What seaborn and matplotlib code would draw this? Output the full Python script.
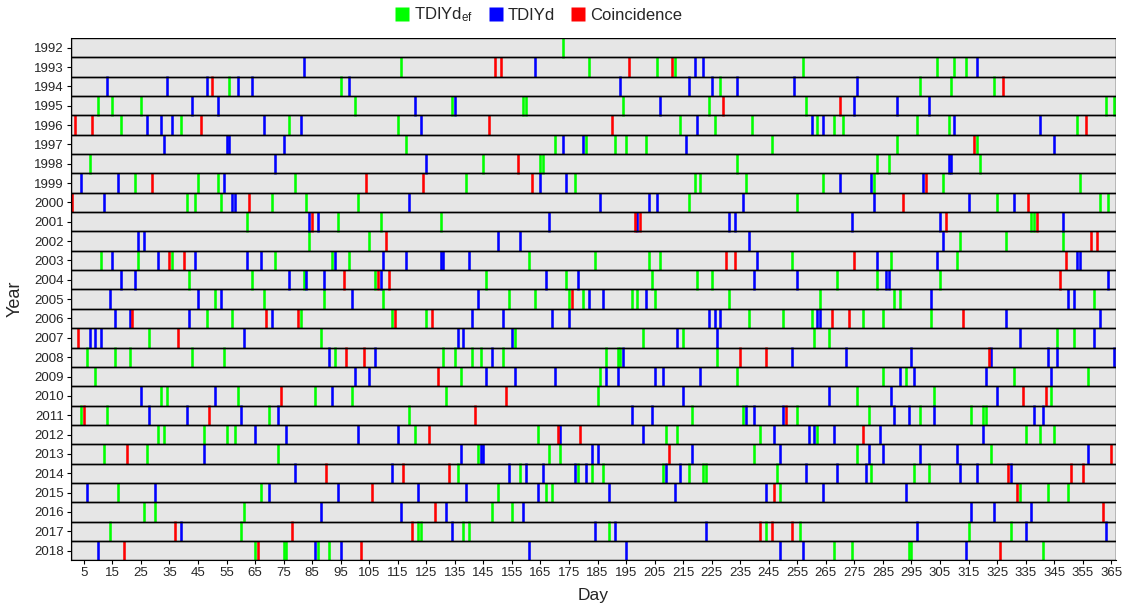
import matplotlib
matplotlib.use("Agg")
import matplotlib.pyplot as plt
from matplotlib.lines import Line2D
import pandas as pd
import seaborn as sns

YEARS = list(range(1992, 2019))
DAY_TICKS = list(range(5, 366, 10))
TYPES = ["TDIYd_ef", "TDIYd", "Coincidence"]
TYPE_LABELS = ["TDIYd$_{ef}$", "TDIYd", "Coincidence"]
COLORS = ["#00ff00", "#0000ff", "#ff0000"]

TDIYD_EF = {
    1992: [173],
    1993: [116, 182, 206, 212, 257, 304, 310, 314],
    1994: [56, 95, 228, 298, 309, 324],
    1995: [10, 15, 25, 100, 134, 159, 160, 194, 224, 258, 363, 366],
    1996: [18, 39, 77, 115, 214, 226, 239, 262, 268, 271, 297, 308, 353],
    1997: [118, 170, 181, 191, 195, 202, 246, 290, 318],
    1998: [7, 145, 165, 166, 234, 283, 287, 319],
    1999: [23, 45, 52, 79, 139, 177, 219, 221, 237, 264, 282, 306, 354],
    2000: [41, 44, 53, 71, 83, 101, 217, 255, 325, 361, 364],
    2001: [62, 94, 109, 130, 337, 338],
    2002: [84, 105, 312, 328, 348],
    2003: [11, 24, 36, 72, 92, 98, 161, 184, 203, 207, 253, 288, 311],
    2004: [42, 64, 82, 107, 146, 174, 204, 220, 225, 269, 283, 305],
    2005: [51, 68, 89, 110, 154, 163, 175, 180, 197, 199, 205, 231, 263, 289, 291, 359],
    2006: [48, 57, 81, 113, 125, 238, 250, 260, 278, 285, 302],
    2007: [28, 88, 156, 201, 215, 261, 266, 346, 352],
    2008: [6, 16, 21, 43, 54, 93, 131, 135, 141, 144, 152, 188, 192, 193, 227],
    2009: [9, 137, 186, 234, 285, 293, 331, 357],
    2010: [32, 34, 59, 86, 99, 132, 185, 276, 303, 344],
    2011: [4, 13, 70, 119, 218, 236, 255, 280, 298, 316, 320, 321],
    2012: [31, 33, 47, 55, 58, 121, 164, 209, 213, 242, 262, 335, 340, 345],
    2013: [12, 27, 73, 143, 168, 172, 240, 276, 323],
    2014: [136, 158, 178, 183, 187, 208, 217, 222, 223, 248, 281, 296, 301],
    2015: [17, 67, 150, 167, 169, 249, 333, 343, 350],
    2016: [26, 30, 61, 148, 155],
    2017: [14, 60, 122, 123, 138, 140, 189, 244, 256, 315, 330],
    2018: [65, 75, 76, 87, 91, 268, 274, 294, 295, 341],
}

TDIYD = {
    1992: [],
    1993: [82, 163, 219, 222, 318],
    1994: [13, 34, 48, 59, 64, 98, 193, 217, 225, 234, 254, 276],
    1995: [43, 52, 121, 135, 207, 275, 290, 301],
    1996: [27, 32, 36, 68, 81, 123, 220, 260, 264, 310, 340],
    1997: [33, 55, 56, 75, 173, 180, 216, 345],
    1998: [72, 125, 308, 309],
    1999: [4, 17, 54, 165, 174, 270, 281, 299],
    2000: [12, 57, 58, 119, 186, 203, 206, 236, 282, 315, 331],
    2001: [84, 87, 168, 199, 231, 233, 274, 305, 348],
    2002: [24, 26, 150, 158, 238, 306],
    2003: [15, 31, 44, 62, 67, 93, 110, 118, 130, 131, 140, 241, 283, 304, 353, 354],
    2004: [18, 23, 77, 83, 89, 109, 167, 178, 240, 255, 286, 287, 364],
    2005: [14, 45, 53, 99, 143, 182, 187, 202, 302, 350, 352],
    2006: [16, 21, 42, 71, 141, 152, 169, 175, 224, 226, 228, 262, 263, 328, 361],
    2007: [7, 9, 11, 61, 136, 138, 155, 213, 227, 333, 359],
    2008: [91, 107, 148, 194, 253, 272, 295, 323, 343, 346, 366],
    2009: [100, 105, 146, 156, 170, 188, 192, 205, 208, 221, 291, 296, 321, 344],
    2010: [25, 51, 92, 215, 266, 288, 325],
    2011: [28, 41, 60, 73, 197, 204, 237, 240, 250, 289, 294, 303, 338, 341],
    2012: [65, 76, 101, 115, 172, 201, 247, 259, 261, 268, 284, 320],
    2013: [47, 137, 144, 145, 183, 185, 218, 249, 280, 285, 298, 311, 357],
    2014: [79, 113, 154, 160, 166, 177, 181, 209, 214, 258, 269, 279, 312, 318, 330],
    2015: [6, 30, 70, 94, 122, 139, 164, 189, 212, 244, 264, 293],
    2016: [88, 116, 132, 159, 316, 324, 337],
    2017: [39, 134, 184, 191, 223, 297, 335, 363],
    2018: [10, 86, 95, 161, 195, 249, 257, 314],
}

COINCIDENCE = {
    1992: [],
    1993: [149, 151, 196, 211],
    1994: [50, 327],
    1995: [229, 270],
    1996: [2, 8, 46, 147, 190, 356],
    1997: [317],
    1998: [157],
    1999: [29, 104, 124, 162, 300],
    2000: [1, 63, 292, 336],
    2001: [85, 198, 200, 307, 339],
    2002: [111, 358, 360],
    2003: [35, 40, 230, 233, 275, 349],
    2004: [96, 108, 112, 347],
    2005: [176],
    2006: [22, 69, 80, 114, 127, 267, 273, 313],
    2007: [3, 38],
    2008: [97, 103, 235, 244, 322],
    2009: [129],
    2010: [74, 153, 334, 342],
    2011: [5, 49, 142, 251],
    2012: [126, 171, 179, 278],
    2013: [20, 210, 365],
    2014: [90, 117, 133, 329, 351, 355],
    2015: [106, 247, 332],
    2016: [128, 362],
    2017: [37, 78, 120, 242, 246, 253],
    2018: [19, 66, 102, 326],
}

records = []
for tname, table in zip(TYPES, [TDIYD_EF, TDIYD, COINCIDENCE]):
    for year, days in table.items():
        for d in days:
            records.append({"Year": year, "Day": d, "Type": tname})
df = pd.DataFrame(records)
df["Row"] = df["Year"] - YEARS[0]

sns.set_theme(style="ticks")
plt.rcParams["font.family"] = ["Liberation Sans", "DejaVu Sans"]
plt.rcParams["mathtext.default"] = "regular"

W, H = 1127, 608
fig = plt.figure(figsize=(W / 100, H / 100), dpi=100)
ax = fig.add_axes([71 / W, 1 - 560.3 / H, (1115.5 - 71) / W, 522.3 / H])

rows = list(range(len(YEARS)))
ax.barh(rows, 366, left=0.5, height=1, color="#e6e6e6", edgecolor="none", zorder=0)

sns.scatterplot(data=df, x="Day", y="Row", hue="Type", hue_order=TYPES,
                palette=COLORS, marker="|", s=14.2 ** 2, linewidth=1.85,
                legend=False, ax=ax, zorder=2)

ax.barh(rows, 366, left=0.5, height=1, fill=False, edgecolor="black",
        linewidth=1.0, zorder=3)

ax.set_xlim(0.5, 366.5)
ax.set_ylim(len(YEARS) - 0.5, -0.5)
ax.set_xticks(DAY_TICKS)
ax.set_xticklabels([str(t) for t in DAY_TICKS], fontsize=9.5)
ax.set_yticks(rows)
ax.set_yticklabels([str(y) for y in YEARS], fontsize=9.5)
ax.tick_params(axis="both", length=3, width=0.8, color="black", pad=2)
for s in ["top", "right"]:
    ax.spines[s].set_visible(False)
for s in ["left", "bottom"]:
    ax.spines[s].set_linewidth(0.8)
    ax.spines[s].set_color("black")
ax.set_xlabel("Day", fontsize=12.5, labelpad=6)
ax.set_ylabel("Year", fontsize=13, labelpad=8)

handles = [Line2D([], [], linestyle="", marker="s", markersize=9.5,
                  markerfacecolor=c, markeredgecolor="none") for c in COLORS]
fig.legend(handles, TYPE_LABELS, loc="center", bbox_to_anchor=(538 / W, 1 - 15 / H),
           ncol=3, frameon=False, fontsize=12, handletextpad=0.2,
           columnspacing=0.9, handlelength=1.0)

fig.savefig("out.png", dpi=100)
